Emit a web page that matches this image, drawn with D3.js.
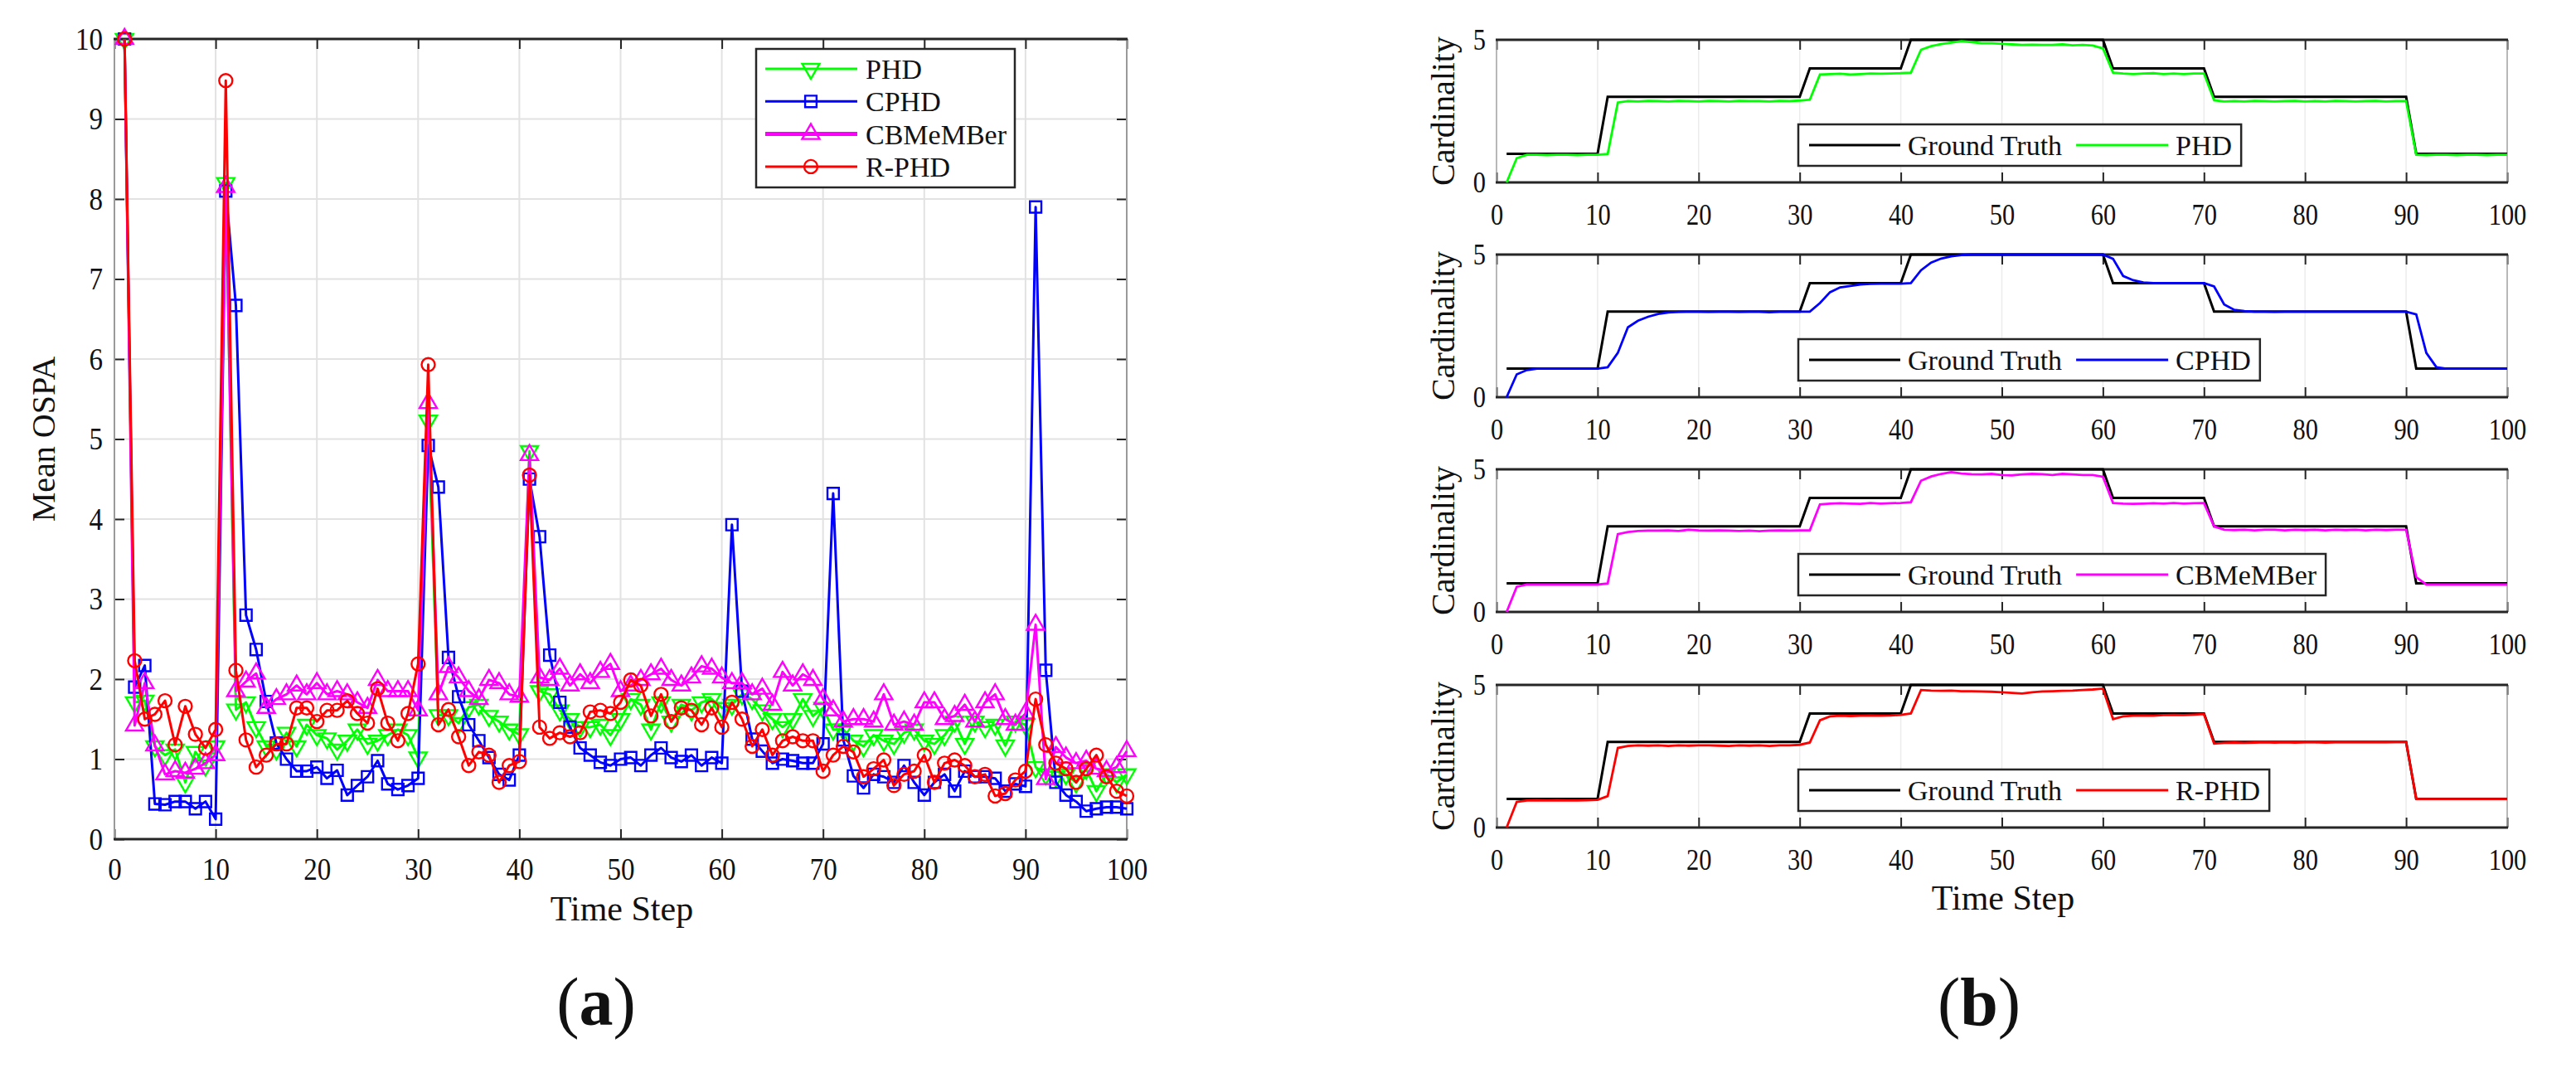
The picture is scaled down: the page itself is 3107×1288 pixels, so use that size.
<!DOCTYPE html>
<html>
<head>
<meta charset="utf-8">
<script src="https://cdn.jsdelivr.net/npm/d3@7"></script>
<style>
  body { margin: 0; background: #fff; }
  svg { display: block; }
  text { font-family: "Liberation Serif", "Times New Roman", serif; fill: #111; }
</style>
</head>
<body>
<div id="chart"></div>
<script>
// time index of both panels
const timeSteps = d3.range(1, 101);
const xTicks = [0, 10, 20, 30, 40, 50, 60, 70, 80, 90, 100];
const ospaTicks = [0, 1, 2, 3, 4, 5, 6, 7, 8, 9, 10];
const cardTicks = [0, 5];

// (a) mean OSPA per time step
const phdOspa = [
  10, 1.71, 1.73, 1.16, 1.05, 1.12, 0.71, 1.09, 0.92, 1.16,
  8.2, 1.62, 1.71, 1.40, 1.16, 1.12, 1.33, 1.16, 1.43, 1.30,
  1.26, 1.12, 1.23, 1.37, 1.19, 1.23, 1.30, 1.37, 1.30, 1.02,
  5.23, 1.55, 1.55, 1.45, 1.65, 1.68, 1.54, 1.47, 1.37, 1.31,
  4.85, 1.85, 1.81, 1.61, 1.50, 1.40, 1.40, 1.43, 1.30, 1.50,
  1.75, 1.68, 1.37, 1.71, 1.47, 1.68, 1.61, 1.71, 1.75, 1.64,
  1.68, 1.81, 1.75, 1.61, 1.50, 1.40, 1.50, 1.75, 1.54, 1.64,
  1.37, 1.37, 1.23, 1.16, 1.30, 1.23, 1.19, 1.33, 1.37, 1.23,
  1.19, 1.30, 1.47, 1.19, 1.47, 1.40, 1.43, 1.17, 1.47, 1.43,
  0.90, 0.81, 0.78, 0.81, 0.71, 0.88, 0.60, 0.81, 0.71, 0.81
];
const cphdOspa = [
  10, 1.90, 2.17, 0.44, 0.43, 0.47, 0.47, 0.38, 0.47, 0.25,
  8.1, 6.67, 2.80, 2.37, 1.72, 1.20, 1.00, 0.85, 0.85, 0.90,
  0.76, 0.86, 0.55, 0.67, 0.78, 0.98, 0.69, 0.62, 0.67, 0.76,
  4.92, 4.40, 2.27, 1.78, 1.43, 1.23, 1.02, 0.81, 0.74, 1.05,
  4.50, 3.78, 2.30, 1.71, 1.40, 1.14, 1.05, 0.96, 0.92, 1.00,
  1.02, 0.92, 1.05, 1.14, 1.02, 0.97, 1.05, 0.92, 1.02, 0.95,
  3.93, 1.85, 1.25, 1.10, 0.95, 1.00, 0.98, 0.95, 0.95, 1.19,
  4.32, 1.24, 0.79, 0.64, 0.81, 0.78, 0.71, 0.92, 0.71, 0.55,
  0.71, 0.81, 0.60, 0.85, 0.78, 0.78, 0.76, 0.60, 0.69, 0.66,
  7.9, 2.11, 0.71, 0.55, 0.47, 0.35, 0.38, 0.40, 0.40, 0.38
];
const cbmemberOspa = [
  10, 1.42, 1.95, 1.17, 0.81, 0.85, 0.83, 0.88, 0.95, 1.05,
  8.15, 1.85, 1.97, 2.07, 1.64, 1.75, 1.81, 1.92, 1.81, 1.95,
  1.81, 1.85, 1.81, 1.71, 1.64, 1.99, 1.85, 1.85, 1.85, 1.61,
  5.45, 1.81, 2.15, 2.02, 1.85, 1.75, 1.99, 1.95, 1.81, 1.78,
  4.80, 2.02, 1.99, 2.13, 1.92, 2.06, 1.95, 2.09, 2.19, 1.85,
  1.92, 1.99, 2.06, 2.13, 1.99, 1.92, 2.02, 2.16, 2.13, 2.02,
  1.95, 1.95, 1.81, 1.88, 1.68, 2.09, 1.92, 2.06, 1.99, 1.75,
  1.61, 1.47, 1.50, 1.50, 1.47, 1.81, 1.43, 1.47, 1.43, 1.71,
  1.71, 1.50, 1.54, 1.68, 1.47, 1.71, 1.81, 1.50, 1.43, 1.57,
  2.68, 0.75, 1.15, 1.02, 0.95, 0.98, 0.88, 0.85, 0.90, 1.10
];
const rphdOspa = [
  10, 2.23, 1.50, 1.56, 1.73, 1.18, 1.66, 1.31, 1.14, 1.37,
  9.48, 2.11, 1.24, 0.90, 1.05, 1.19, 1.19, 1.64, 1.64, 1.47,
  1.61, 1.61, 1.73, 1.57, 1.45, 1.88, 1.45, 1.23, 1.57, 2.19,
  5.93, 1.43, 1.62, 1.28, 0.92, 1.09, 1.05, 0.71, 0.92, 0.97,
  4.55, 1.40, 1.26, 1.33, 1.28, 1.33, 1.59, 1.61, 1.57, 1.71,
  1.99, 1.92, 1.54, 1.81, 1.47, 1.64, 1.61, 1.43, 1.64, 1.40,
  1.71, 1.50, 1.16, 1.37, 1.05, 1.23, 1.28, 1.23, 1.23, 0.85,
  1.05, 1.16, 1.09, 0.78, 0.88, 0.99, 0.67, 0.81, 0.85, 1.05,
  0.71, 0.95, 0.99, 0.92, 0.78, 0.81, 0.54, 0.57, 0.74, 0.85,
  1.75, 1.18, 0.95, 0.88, 0.71, 0.88, 1.05, 0.78, 0.60, 0.54
];

// (b) cardinality per time step
const groundTruth = [
  1, 1, 1, 1, 1, 1, 1, 1, 1, 1,
  3, 3, 3, 3, 3, 3, 3, 3, 3, 3,
  3, 3, 3, 3, 3, 3, 3, 3, 3, 3,
  4, 4, 4, 4, 4, 4, 4, 4, 4, 4,
  5, 5, 5, 5, 5, 5, 5, 5, 5, 5,
  5, 5, 5, 5, 5, 5, 5, 5, 5, 5,
  4, 4, 4, 4, 4, 4, 4, 4, 4, 4,
  3, 3, 3, 3, 3, 3, 3, 3, 3, 3,
  3, 3, 3, 3, 3, 3, 3, 3, 3, 3,
  1, 1, 1, 1, 1, 1, 1, 1, 1, 1
];
const phdCard = [
  0, 0.85, 0.97, 0.97, 0.96, 0.97, 0.97, 0.96, 0.97, 0.97,
  1.0, 2.8, 2.85, 2.84, 2.86, 2.85, 2.84, 2.86, 2.85, 2.84,
  2.86, 2.85, 2.84, 2.86, 2.85, 2.85, 2.84, 2.86, 2.85, 2.87,
  2.9, 3.78, 3.8, 3.81, 3.78, 3.8, 3.82, 3.81, 3.82, 3.83,
  3.85, 4.65, 4.78, 4.85, 4.9, 4.95, 4.92, 4.88, 4.88, 4.86,
  4.84, 4.82, 4.83, 4.82, 4.82, 4.84, 4.81, 4.82, 4.8, 4.7,
  3.85, 3.82, 3.8, 3.82, 3.83, 3.8, 3.82, 3.8, 3.82, 3.82,
  2.88, 2.84, 2.85, 2.84, 2.86, 2.85, 2.84, 2.85, 2.86, 2.84,
  2.85, 2.84, 2.86, 2.85, 2.84, 2.85, 2.86, 2.84, 2.85, 2.85,
  0.97, 0.96, 0.97, 0.97, 0.96, 0.97, 0.97, 0.96, 0.97, 0.97
];
const cphdCard = [
  0, 0.8, 0.95, 1.0, 1.0, 1.0, 1.0, 1.0, 1.0, 1.0,
  1.05, 1.55, 2.45, 2.68, 2.82, 2.92, 2.97, 2.99, 3.0, 3.0,
  2.99, 3.0, 3.0, 2.99, 3.0, 3.0, 2.98, 3.0, 3.0, 3.0,
  3.0, 3.3, 3.68, 3.85, 3.9, 3.95, 3.97, 3.98, 3.98, 3.98,
  4.0, 4.45, 4.72, 4.86, 4.94, 4.98, 5.0, 5.0, 5.0, 5.0,
  5.0, 5.0, 5.0, 5.0, 5.0, 5.0, 5.0, 5.0, 5.0, 5.0,
  4.85, 4.25, 4.1, 4.02, 4.0, 4.0, 4.0, 4.0, 4.0, 4.0,
  3.88, 3.25, 3.06, 3.02, 3.0, 3.0, 2.99, 3.0, 3.0, 3.0,
  3.0, 3.0, 3.0, 3.0, 3.0, 3.0, 3.0, 3.0, 3.0, 3.0,
  2.9, 1.55, 1.05, 1.0, 1.0, 1.0, 1.0, 1.0, 1.0, 1.0
];
const cbmemberCard = [
  0, 0.88, 0.96, 0.96, 0.96, 0.96, 0.96, 0.96, 0.96, 0.96,
  1.0, 2.73, 2.8, 2.84, 2.85, 2.85, 2.86, 2.84, 2.88, 2.86,
  2.85, 2.86, 2.85, 2.84, 2.85, 2.83, 2.85, 2.86, 2.85, 2.86,
  2.86, 3.77, 3.8, 3.81, 3.8, 3.79, 3.82, 3.8, 3.81, 3.82,
  3.85, 4.6, 4.75, 4.84, 4.9, 4.85, 4.83, 4.82, 4.84, 4.8,
  4.79, 4.82, 4.84, 4.83, 4.8, 4.84, 4.82, 4.8, 4.8, 4.74,
  3.82, 3.8, 3.79, 3.8, 3.81, 3.8, 3.82, 3.8, 3.81, 3.82,
  3.0, 2.88, 2.87, 2.88, 2.86, 2.88, 2.88, 2.86, 2.88, 2.87,
  2.88, 2.86, 2.88, 2.87, 2.88, 2.86, 2.88, 2.87, 2.88, 2.88,
  1.22, 0.96, 0.96, 0.96, 0.96, 0.96, 0.96, 0.96, 0.96, 0.96
];
const rphdCard = [
  0, 0.9, 0.95, 0.96, 0.95, 0.96, 0.95, 0.95, 0.96, 0.97,
  1.1, 2.79, 2.86, 2.88, 2.87, 2.88, 2.86, 2.88, 2.87, 2.88,
  2.88, 2.87, 2.86, 2.88, 2.87, 2.88, 2.86, 2.88, 2.88, 2.9,
  2.98, 3.76, 3.9, 3.92, 3.91, 3.92, 3.93, 3.92, 3.93, 3.95,
  4.0, 4.82, 4.8, 4.79, 4.8, 4.78, 4.78, 4.77, 4.76, 4.74,
  4.72, 4.7, 4.74, 4.77, 4.78, 4.79, 4.8, 4.82, 4.84, 4.87,
  3.8, 3.9, 3.92, 3.93, 3.92, 3.94, 3.95, 3.94, 3.96, 3.98,
  2.94, 2.97, 2.98, 2.97, 2.98, 2.99, 2.98, 2.99, 2.98, 2.99,
  2.99, 2.98, 2.99, 3.0, 2.99, 2.99, 3.0, 2.99, 3.0, 3.0,
  1.0, 1.0, 1.0, 1.0, 1.0, 1.0, 1.0, 1.0, 1.0, 1.0
];

const ospaSeries = [
  { name: 'PHD', values: phdOspa, color: '#00ff00', symbol: d3.symbolTriangle, rotate: 180, size: 190 },
  { name: 'CPHD', values: cphdOspa, color: '#0000ff', symbol: d3.symbolSquare, rotate: 0, size: 190 },
  { name: 'CBMeMBer', values: cbmemberOspa, color: '#ff00ff', symbol: d3.symbolTriangle, rotate: 0, size: 190 },
  { name: 'R-PHD', values: rphdOspa, color: '#ff0000', symbol: d3.symbolCircle, rotate: 0, size: 200 }
];
const cardSeries = [
  { name: 'PHD', values: phdCard, color: '#00ff00' },
  { name: 'CPHD', values: cphdCard, color: '#0000ff' },
  { name: 'CBMeMBer', values: cbmemberCard, color: '#ff00ff' },
  { name: 'R-PHD', values: rphdCard, color: '#ff0000' }
];

const svgWidth = 3107;
const svgHeight = 1288;
const dark = '#262626';
const gridColor = '#e2e2e2';
const squeeze = 'scale(0.87,1)';

const svg = d3.select('#chart')
  .append('svg')
  .attr('width', svgWidth)
  .attr('height', svgHeight);

// ---------- (a) mean OSPA ----------
const xA = d3.scaleLinear().domain([0, 100]).range([138, 1359]);
const yA = d3.scaleLinear().domain([0, 10]).range([1012, 47]);

const panelA = svg.append('g');

panelA.append('g')
  .selectAll('line.vgrid')
  .data(xTicks)
  .join('line')
  .attr('x1', d => xA(d)).attr('x2', d => xA(d))
  .attr('y1', yA(0)).attr('y2', yA(10))
  .attr('stroke', gridColor).attr('stroke-width', 2);

panelA.append('g')
  .selectAll('line.hgrid')
  .data(ospaTicks)
  .join('line')
  .attr('x1', xA(0)).attr('x2', xA(100))
  .attr('y1', d => yA(d)).attr('y2', d => yA(d))
  .attr('stroke', gridColor).attr('stroke-width', 2);

const styleAxis = (g, fontSize) => {
  g.select('.domain').remove();
  g.selectAll('.tick line').attr('stroke', dark).attr('stroke-width', 2);
  g.selectAll('.tick text')
    .attr('font-size', fontSize)
    .attr('fill', '#222')
    .attr('transform', squeeze);
};

panelA.append('g')
  .attr('transform', `translate(0, ${yA(0)})`)
  .call(d3.axisBottom(xA).tickValues(xTicks).tickSize(-12).tickPadding(22))
  .call(g => styleAxis(g, 38));

panelA.append('g')
  .attr('transform', `translate(0, ${yA(10)})`)
  .call(d3.axisTop(xA).tickValues(xTicks).tickSize(-12).tickFormat(''))
  .call(g => styleAxis(g, 38));

panelA.append('g')
  .attr('transform', `translate(${xA(0)}, 0)`)
  .call(d3.axisLeft(yA).tickValues(ospaTicks).tickSize(-12).tickPadding(16).tickFormat(d3.format('d')))
  .call(g => styleAxis(g, 38));

panelA.append('g')
  .attr('transform', `translate(${xA(100)}, 0)`)
  .call(d3.axisRight(yA).tickValues(ospaTicks).tickSize(-12).tickFormat(''))
  .call(g => styleAxis(g, 38));

// box
panelA.append('line')
  .attr('x1', xA(0)).attr('x2', xA(0)).attr('y1', yA(0)).attr('y2', yA(10))
  .attr('stroke', '#9a9a9a').attr('stroke-width', 2);
panelA.append('line')
  .attr('x1', xA(100)).attr('x2', xA(100)).attr('y1', yA(0)).attr('y2', yA(10))
  .attr('stroke', '#9a9a9a').attr('stroke-width', 2);
panelA.append('line')
  .attr('x1', xA(0) - 1).attr('x2', xA(100) + 1).attr('y1', yA(0)).attr('y2', yA(0))
  .attr('stroke', dark).attr('stroke-width', 3);
panelA.append('line')
  .attr('x1', xA(0) - 1).attr('x2', xA(100) + 1).attr('y1', yA(10)).attr('y2', yA(10))
  .attr('stroke', dark).attr('stroke-width', 3);

const ospaLine = d3.line()
  .x((d, i) => xA(timeSteps[i]))
  .y(d => yA(d));

ospaSeries.forEach(s => {
  const g = panelA.append('g');
  g.append('path')
    .datum(s.values)
    .attr('d', ospaLine)
    .attr('fill', 'none')
    .attr('stroke', s.color)
    .attr('stroke-width', 3)
    .attr('stroke-linejoin', 'round');
  g.selectAll('path.marker')
    .data(s.values)
    .join('path')
    .attr('class', 'marker')
    .attr('d', d3.symbol().type(s.symbol).size(s.size))
    .attr('transform', (d, i) => `translate(${xA(timeSteps[i])}, ${yA(d)}) rotate(${s.rotate})`)
    .attr('fill', 'none')
    .attr('stroke', s.color)
    .attr('stroke-width', 2.4);
});

// legend of (a)
const legA = panelA.append('g');
legA.append('rect')
  .attr('x', 912).attr('y', 59).attr('width', 312).attr('height', 167)
  .attr('fill', '#fff').attr('stroke', dark).attr('stroke-width', 2.5);
ospaSeries.forEach((s, i) => {
  const cy = 83 + i * 39.3;
  legA.append('line')
    .attr('x1', 923).attr('x2', 1034).attr('y1', cy).attr('y2', cy)
    .attr('stroke', s.color).attr('stroke-width', s.name === 'CBMeMBer' ? 5 : 3);
  legA.append('path')
    .attr('d', d3.symbol().type(s.symbol).size(s.size)())
    .attr('transform', `translate(978, ${cy}) rotate(${s.rotate})`)
    .attr('fill', 'none').attr('stroke', s.color).attr('stroke-width', 2.4);
  legA.append('text')
    .attr('x', 1044).attr('y', cy).attr('dy', '0.35em')
    .attr('font-size', 34)
    .text(s.name);
});

panelA.append('text')
  .attr('transform', `translate(52, ${(yA(0) + yA(10)) / 2}) rotate(-90)`)
  .attr('text-anchor', 'middle').attr('dy', '0.35em')
  .attr('font-size', 40)
  .text('Mean OSPA');

panelA.append('text')
  .attr('x', 750).attr('y', 1110)
  .attr('text-anchor', 'middle')
  .attr('font-size', 42)
  .text('Time Step');

// ---------- (b) cardinality ----------
const xB = d3.scaleLinear().domain([0, 100]).range([1805, 3024]);
const panelTops = [48, 307, 566, 826];
const panelHeight = 172;

const cardLine = yScale => d3.line()
  .x((d, i) => xB(timeSteps[i]))
  .y(d => yScale(d));

cardSeries.forEach((s, k) => {
  const top = panelTops[k];
  const yB = d3.scaleLinear().domain([0, 5]).range([top + panelHeight, top]);
  const g = svg.append('g');

  g.append('g')
    .selectAll('line')
    .data(xTicks.slice(1, -1))
    .join('line')
    .attr('x1', d => xB(d)).attr('x2', d => xB(d))
    .attr('y1', yB(0)).attr('y2', yB(5))
    .attr('stroke', '#ececec').attr('stroke-width', 1.5);

  g.append('g')
    .attr('transform', `translate(0, ${yB(0)})`)
    .call(d3.axisBottom(xB).tickValues(xTicks).tickSize(-12).tickPadding(26))
    .call(a => styleAxis(a, 35));

  g.append('g')
    .attr('transform', `translate(0, ${yB(5)})`)
    .call(d3.axisTop(xB).tickValues(xTicks).tickSize(-12).tickFormat(''))
    .call(a => styleAxis(a, 35));

  g.append('g')
    .attr('transform', `translate(${xB(0)}, 0)`)
    .call(d3.axisLeft(yB).tickValues(cardTicks).tickSize(0).tickPadding(15).tickFormat(d3.format('d')))
    .call(a => styleAxis(a, 35));

  g.append('line')
    .attr('x1', xB(0)).attr('x2', xB(0)).attr('y1', yB(0)).attr('y2', yB(5))
    .attr('stroke', '#a0a0a0').attr('stroke-width', 1.5);
  g.append('line')
    .attr('x1', xB(100)).attr('x2', xB(100)).attr('y1', yB(0)).attr('y2', yB(5))
    .attr('stroke', '#a0a0a0').attr('stroke-width', 1.5);
  g.append('line')
    .attr('x1', xB(0) - 1).attr('x2', xB(100) + 1).attr('y1', yB(0)).attr('y2', yB(0))
    .attr('stroke', dark).attr('stroke-width', 3);
  g.append('line')
    .attr('x1', xB(0) - 1).attr('x2', xB(100) + 1).attr('y1', yB(5)).attr('y2', yB(5))
    .attr('stroke', dark).attr('stroke-width', 3);

  g.append('path')
    .datum(groundTruth)
    .attr('d', cardLine(yB))
    .attr('fill', 'none')
    .attr('stroke', '#000')
    .attr('stroke-width', 3);

  g.append('path')
    .datum(s.values)
    .attr('d', cardLine(yB))
    .attr('fill', 'none')
    .attr('stroke', s.color)
    .attr('stroke-width', 2.8);

  g.append('text')
    .attr('transform', `translate(1740, ${top + panelHeight / 2}) rotate(-90)`)
    .attr('text-anchor', 'middle').attr('dy', '0.35em')
    .attr('font-size', 40)
    .text('Cardinality');

  // legend
  const leg = g.append('g');
  const box = leg.append('rect')
    .attr('x', 2169).attr('y', top + 102).attr('height', 50)
    .attr('fill', '#fff').attr('stroke', dark).attr('stroke-width', 2.5);
  const cy = top + 127;
  leg.append('line')
    .attr('x1', 2182).attr('x2', 2292).attr('y1', cy).attr('y2', cy)
    .attr('stroke', '#000').attr('stroke-width', 3);
  const gt = leg.append('text')
    .attr('x', 2301).attr('y', cy).attr('dy', '0.35em')
    .attr('font-size', 34)
    .text('Ground Truth');
  const gtEnd = 2301 + gt.node().getComputedTextLength();
  leg.append('line')
    .attr('x1', gtEnd + 17).attr('x2', gtEnd + 128).attr('y1', cy).attr('y2', cy)
    .attr('stroke', s.color).attr('stroke-width', 3);
  const lab = leg.append('text')
    .attr('x', gtEnd + 137).attr('y', cy).attr('dy', '0.35em')
    .attr('font-size', 34)
    .text(s.name);
  const labEnd = gtEnd + 137 + lab.node().getComputedTextLength();
  box.attr('width', labEnd + 11 - 2169);
});

svg.append('text')
  .attr('x', 2416).attr('y', 1097)
  .attr('text-anchor', 'middle')
  .attr('font-size', 42)
  .text('Time Step');

// sub-figure captions
const caption = (x, letter) => {
  const t = svg.append('text')
    .attr('x', x).attr('y', 1236)
    .attr('text-anchor', 'middle')
    .attr('font-size', 82);
  t.append('tspan').text('(');
  t.append('tspan').attr('font-weight', 'bold').text(letter);
  t.append('tspan').text(')');
};
caption(719, 'a');
caption(2387, 'b');
</script>
</body>
</html>
